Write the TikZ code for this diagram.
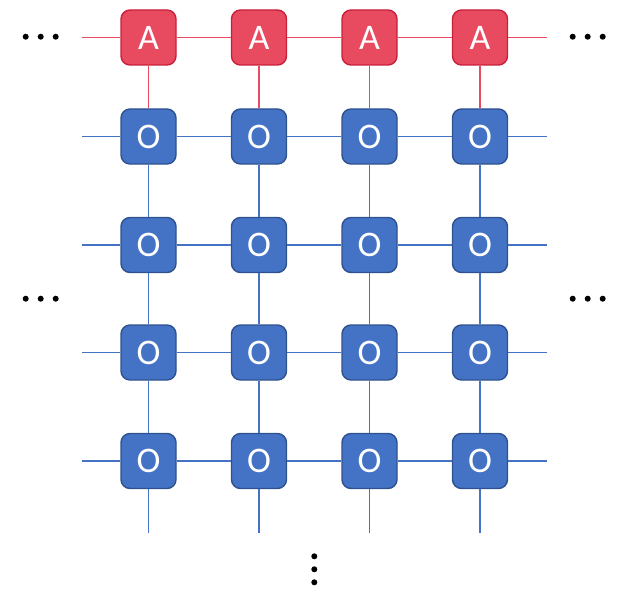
\documentclass[tikz,border=0pt]{standalone}
\usepackage{fontspec}
\setmainfont{Carlito}
\definecolor{rfill}{HTML}{E84A5F}
\definecolor{rdraw}{HTML}{C8203A}
\definecolor{bfill}{HTML}{4472C4}
\definecolor{bdraw}{HTML}{2F528F}
\tikzset{
  cell/.style={rounded corners=9bp, minimum width=55bp, minimum height=55bp, inner sep=0pt, line width=1.4bp, text=white, font=\fontsize{36bp}{36bp}\selectfont},
  abox/.style={cell, fill=rfill, draw=rdraw},
  obox/.style={cell, fill=bfill, draw=bdraw},
  rline/.style={draw=rfill, line width=1.7bp},
  bline/.style={draw=bfill, line width=1.7bp},
  dot/.style={circle, fill=black, inner sep=0pt, minimum size=6bp}
}
\begin{document}
\begin{tikzpicture}[x=1bp,y=-1bp]
\useasboundingbox (0,0) rectangle (629,610);
% connector end points
\coordinate (AL) at (82,37.5); \coordinate (AR) at (547,37.5);
\foreach \r/\y in {1/136.5,2/245,3/352.5,4/461}{
  \coordinate (L\r) at (82,\y); \coordinate (R\r) at (547,\y);
}
% nodes
\foreach \c/\x in {1/148.5,2/259,3/369.5,4/480}{
  \node[abox] (A\c) at (\x,37.5) {A};
  \foreach \r/\y in {1/136.5,2/245,3/352.5,4/461}{
    \node[obox] (O\r\c) at (\x,\y) {O};
  }
  \coordinate (B\c) at (\x,533);
}
% connectors
\draw[rline] (AL) -- (A1) (A1) -- (A2) (A2) -- (A3) (A3) -- (A4) (A4) -- (AR);
\foreach \c in {1,2,3,4}{
  \draw[rline] (A\c) -- (O1\c);
  \draw[bline] (O1\c) -- (O2\c) (O2\c) -- (O3\c) (O3\c) -- (O4\c) (O4\c) -- (B\c);
}
\foreach \r in {1,2,3,4}{
  \draw[bline] (L\r) -- (O\r1) (O\r1) -- (O\r2) (O\r2) -- (O\r3) (O\r3) -- (O\r4) (O\r4) -- (R\r);
}
% dots
\foreach \i/\x in {1/25.7,2/40.7,3/55.7}{
  \node[dot] (tl\i) at (\x,36.7) {};
  \node[dot] (ml\i) at (\x,298.7) {};
}
\foreach \i/\x in {1/572.7,2/587.7,3/602.7}{
  \node[dot] (tr\i) at (\x,36.7) {};
  \node[dot] (mr\i) at (\x,298.7) {};
}
\foreach \i/\y in {1/556.3,2/569.3,3/582.3}{
  \node[dot] (bd\i) at (314.3,\y) {};
}
\end{tikzpicture}
\end{document}
